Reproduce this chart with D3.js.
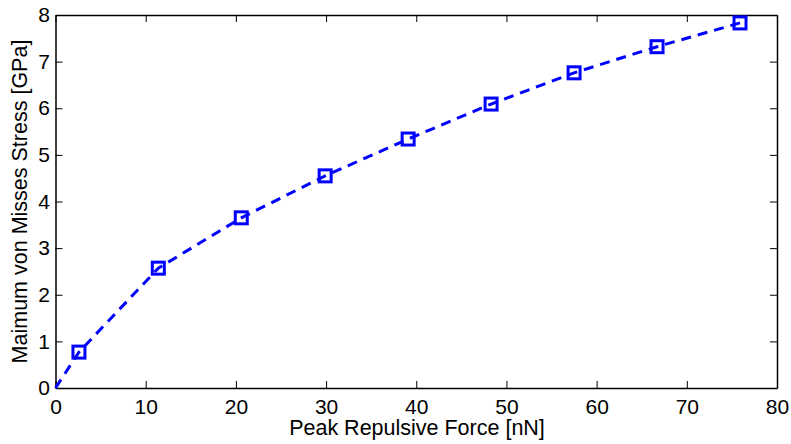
<!DOCTYPE html>
<html>
<head>
<meta charset="utf-8">
<script src="https://cdn.jsdelivr.net/npm/d3@7"></script>
<style>
  body { margin: 0; background: #fff; }
  text { font-family: "Liberation Sans", Arial, sans-serif; fill: #000; }
</style>
</head>
<body>
<div id="graf"></div>
<script>
// Datos
const fuerza = [0, 2.6, 11.4, 20.6, 29.9, 39.1, 48.3, 57.5, 66.7, 75.9]
const estres = [0, 0.77, 2.57, 3.65, 4.55, 5.34, 6.09, 6.76, 7.32, 7.83]
const xTicks = [0, 10, 20, 30, 40, 50, 60, 70, 80]
const yTicks = [0, 1, 2, 3, 4, 5, 6, 7, 8]

const data = fuerza.map((f, i) => ({ x: f, y: estres[i] }))

// Dimensiones
const anchoTotal = 791
const altoTotal = 444
const margins = { top: 15, right: 14, bottom: 56, left: 55.5 }
const ancho = anchoTotal - margins.left - margins.right
const alto = altoTotal - margins.top - margins.bottom

const svg = d3.select("#graf")
  .append("svg")
  .attr("width", anchoTotal)
  .attr("height", altoTotal)

const g = svg.append("g")
  .attr("transform", `translate(${margins.left}, ${margins.top})`)

// Escaladores
const x = d3.scaleLinear().domain([0, 80]).range([0, ancho])
const y = d3.scaleLinear().domain([0, 8]).range([alto, 0])

// Ejes (ticks hacia adentro, espejo arriba/derecha)
const tick = 7
const ejeX = g.append("g").attr("transform", `translate(0, ${alto})`)
  .call(d3.axisBottom(x).tickValues(xTicks).tickSizeInner(-tick).tickSizeOuter(0).tickPadding(11))
const ejeY = g.append("g")
  .call(d3.axisLeft(y).tickValues(yTicks).tickSizeInner(-tick).tickSizeOuter(0).tickPadding(5.5))
const ejeXtop = g.append("g")
  .call(d3.axisTop(x).tickValues(xTicks).tickSizeInner(-tick).tickSizeOuter(0).tickFormat(""))
const ejeYder = g.append("g").attr("transform", `translate(${ancho}, 0)`)
  .call(d3.axisRight(y).tickValues(yTicks).tickSizeInner(-tick).tickSizeOuter(0).tickFormat(""))

;[ejeX, ejeY, ejeXtop, ejeYder].forEach(a => {
  a.attr("font-size", null).attr("font-family", null)
  a.select(".domain").attr("stroke", "#000").attr("stroke-width", 1.5)
  a.selectAll(".tick line").attr("stroke", "#000").attr("stroke-width", 1)
  a.selectAll(".tick text").style("font-size", "21px")
})
ejeX.selectAll(".tick text").attr("dy", "0.71em")

// Línea
const linea = d3.line().x(d => x(d.x)).y(d => y(d.y))
g.append("path")
  .datum(data)
  .attr("d", linea)
  .attr("fill", "none")
  .attr("stroke", "#0000ff")
  .attr("stroke-width", 3)
  .attr("stroke-dasharray", "10,7")

// Marcadores
const lado = 12
g.selectAll(".marca")
  .data(data.slice(1))
  .enter()
  .append("rect")
  .attr("x", d => x(d.x) - lado / 2)
  .attr("y", d => y(d.y) - lado / 2)
  .attr("width", lado)
  .attr("height", lado)
  .attr("fill", "none")
  .attr("stroke", "#0000ff")
  .attr("stroke-width", 3)

// Títulos
svg.append("text")
  .attr("x", 417)
  .attr("y", 435)
  .attr("text-anchor", "middle")
  .style("font-size", "21.5px")
  .text("Peak Repulsive Force [nN]")

svg.append("text")
  .attr("transform", `translate(27, ${margins.top + alto / 2}) rotate(-90)`)
  .attr("text-anchor", "middle")
  .style("font-size", "21.5px")
  .text("Maimum von Misses Stress [GPa]")
</script>
</body>
</html>
